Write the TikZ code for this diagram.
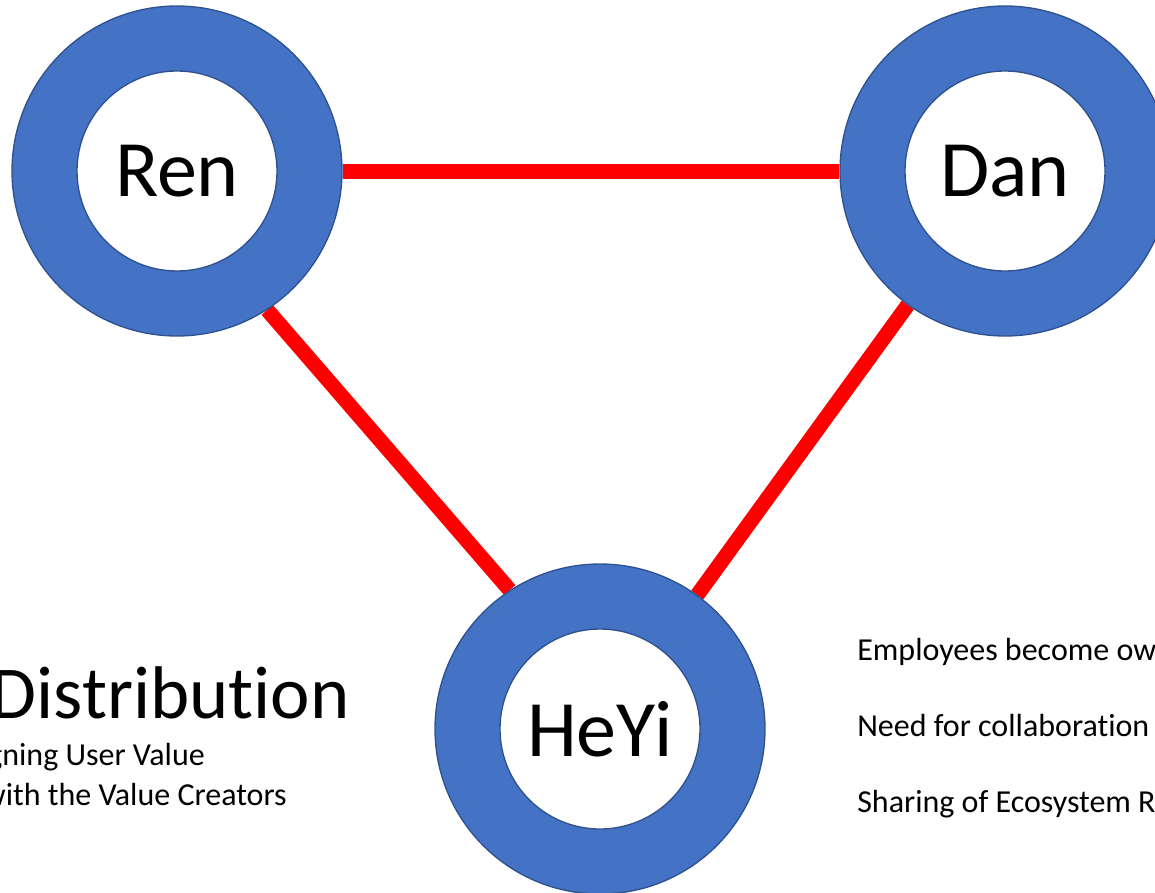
\documentclass[tikz,border=0pt]{standalone}
\usepackage{fontspec}
\setmainfont{Carlito}[RawFeature=-liga]
\usetikzlibrary{backgrounds}
\definecolor{ringblue}{HTML}{4472C4}
\definecolor{ringedge}{HTML}{2F528F}
\tikzset{
  ring/.style={circle, fill=ringblue, draw=ringedge, line width=1pt, minimum size=247.5pt, inner sep=0pt},
  hole/.style={circle, fill=white, draw=ringedge, line width=1pt, minimum size=150pt, inner sep=0pt, font=\fontsize{60}{62}\selectfont},
  link/.style={draw=red, line width=11.25pt},
  note/.style={inner sep=0pt, font=\fontsize{24}{28}\selectfont}
}
\begin{document}
\begin{tikzpicture}[x=0.75pt,y=-0.75pt]
  \useasboundingbox (0,0) rectangle (1155,892);

  % the three rings
  \node[ring] (ren) at (177,171) {};
  \node[hole] (renin) at (ren) {Ren};
  \node[ring] (dan) at (1005,171) {};
  \node[hole] (danin) at (dan) {Dan};
  \node[ring] (heyi) at (600,729) {};
  \node[hole] (heyiin) at (heyi) {HeYi};

  % links between them
  \begin{scope}[on background layer]
    \draw[link] (ren.-0.7) -- (dan.180.7);
    \draw[link] (ren.-57) -- (heyi.123);
    \draw[link] (dan) -- (heyi);
  \end{scope}

  % left text
  \node[inner sep=0pt, anchor=base east, font=\fontsize{56}{60}\selectfont] (distr) at (350,718) {Distribution};
  \node[note, anchor=base east] (userval) at (205,765) {gning User Value};
  \node[note, anchor=base east] (creators) at (287,805) {with the Value Creators};

  % right text
  \node[note, anchor=base west] (owners) at (857,660) {Employees become ow};
  \node[note, anchor=base west] (collab) at (857,736) {Need for collaboration};
  \node[note, anchor=base west] (sharing) at (857,812) {Sharing of Ecosystem R};
\end{tikzpicture}
\end{document}
